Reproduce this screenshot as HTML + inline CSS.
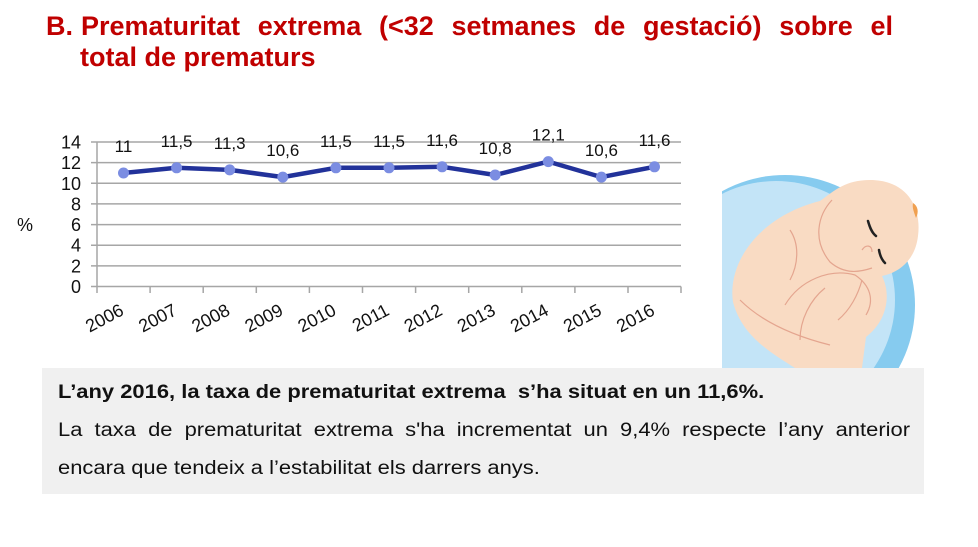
<!DOCTYPE html>
<html><head><meta charset="utf-8"><style>
html,body{margin:0;padding:0;background:#fff;}
body{width:978px;height:547px;position:relative;overflow:hidden;font-family:"Liberation Sans",Arial,sans-serif;}
.title{position:absolute;left:46px;top:11px;width:847px;color:#c00000;font-weight:bold;font-size:27px;line-height:31px;}
.t1{position:relative;height:31px;}
.t1 .b{position:absolute;left:0;top:0;}
.t1 .r{position:absolute;left:35px;top:0;width:812px;white-space:nowrap;text-align:justify;text-align-last:justify;}
.t2{padding-left:34px;}
.box{position:absolute;left:42px;top:368px;width:882px;height:126px;background:#f0f0f0;}
.bx{position:absolute;left:16px;font-size:19px;line-height:38px;color:#111;white-space:nowrap;transform-origin:0 0;transform:scaleX(1.155);}
.b1{top:6px;font-weight:bold;}
.b2{top:44px;width:737.7px;text-align:justify;text-align-last:justify;}
.b3{top:82px;}
svg{position:absolute;left:0;top:0;}
</style></head><body>
<div class="title"><div class="t1"><span class="b">B.</span><div class="r">Prematuritat extrema (&lt;32 setmanes de gestació) sobre el</div></div><div class="t2">total de prematurs</div></div>

<svg width="978" height="547" viewBox="0 0 978 547">
 <g stroke="#a6a6a6" stroke-width="1.5" fill="none">
  <line x1="91" y1="142" x2="681" y2="142"/>
  <line x1="91" y1="162.6" x2="681" y2="162.6"/>
  <line x1="91" y1="183.3" x2="681" y2="183.3"/>
  <line x1="91" y1="203.9" x2="681" y2="203.9"/>
  <line x1="91" y1="224.6" x2="681" y2="224.6"/>
  <line x1="91" y1="245.2" x2="681" y2="245.2"/>
  <line x1="91" y1="265.9" x2="681" y2="265.9"/>
  <line x1="91" y1="286.5" x2="681" y2="286.5"/>
  <line x1="97" y1="142" x2="97" y2="293"/>
  <line x1="150.1" y1="286.5" x2="150.1" y2="293"/>
  <line x1="203.2" y1="286.5" x2="203.2" y2="293"/>
  <line x1="256.3" y1="286.5" x2="256.3" y2="293"/>
  <line x1="309.4" y1="286.5" x2="309.4" y2="293"/>
  <line x1="362.5" y1="286.5" x2="362.5" y2="293"/>
  <line x1="415.6" y1="286.5" x2="415.6" y2="293"/>
  <line x1="468.7" y1="286.5" x2="468.7" y2="293"/>
  <line x1="521.8" y1="286.5" x2="521.8" y2="293"/>
  <line x1="574.9" y1="286.5" x2="574.9" y2="293"/>
  <line x1="628" y1="286.5" x2="628" y2="293"/>
  <line x1="681" y1="286.5" x2="681" y2="293"/>
 </g>
 <g font-family="Liberation Sans, Arial, sans-serif" font-size="18" fill="#111" text-anchor="end">
  <text x="81" y="148.5">14</text>
  <text x="81" y="169.1">12</text>
  <text x="81" y="189.8">10</text>
  <text x="81" y="210.4">8</text>
  <text x="81" y="231.1">6</text>
  <text x="81" y="251.7">4</text>
  <text x="81" y="272.4">2</text>
  <text x="81" y="293">0</text>
 </g>
 <text x="17" y="231" font-family="Liberation Sans, Arial, sans-serif" font-size="18" fill="#111">%</text>
 <polyline fill="none" stroke="#22329a" stroke-width="4.5" stroke-linejoin="round"
  points="123.5,173 176.6,167.8 229.7,169.9 282.8,177.1 335.9,167.8 389,167.8 442.1,166.8 495.2,175 548.3,161.6 601.4,177.1 654.5,166.8"/>
 <g fill="#7b8de2">
  <circle cx="123.5" cy="173" r="5.5"/><circle cx="176.6" cy="167.8" r="5.5"/><circle cx="229.7" cy="169.9" r="5.5"/>
  <circle cx="282.8" cy="177.1" r="5.5"/><circle cx="335.9" cy="167.8" r="5.5"/><circle cx="389" cy="167.8" r="5.5"/>
  <circle cx="442.1" cy="166.8" r="5.5"/><circle cx="495.2" cy="175" r="5.5"/><circle cx="548.3" cy="161.6" r="5.5"/>
  <circle cx="601.4" cy="177.1" r="5.5"/><circle cx="654.5" cy="166.8" r="5.5"/>
 </g>
 <g font-family="Liberation Sans, Arial, sans-serif" font-size="17" fill="#111" text-anchor="middle">
  <text x="123.5" y="152">11</text>
  <text x="176.6" y="146.8">11,5</text>
  <text x="229.7" y="148.9">11,3</text>
  <text x="282.8" y="156.1">10,6</text>
  <text x="335.9" y="146.8">11,5</text>
  <text x="389" y="146.8">11,5</text>
  <text x="442.1" y="145.8">11,6</text>
  <text x="495.2" y="154">10,8</text>
  <text x="548.3" y="140.6">12,1</text>
  <text x="601.4" y="156.1">10,6</text>
  <text x="654.5" y="145.8">11,6</text>
 </g>
 <g font-family="Liberation Sans, Arial, sans-serif" font-size="18" fill="#111" text-anchor="end">
  <text transform="translate(125,314) rotate(-28)">2006</text>
  <text transform="translate(178.1,314) rotate(-28)">2007</text>
  <text transform="translate(231.2,314) rotate(-28)">2008</text>
  <text transform="translate(284.3,314) rotate(-28)">2009</text>
  <text transform="translate(337.4,314) rotate(-28)">2010</text>
  <text transform="translate(390.5,314) rotate(-28)">2011</text>
  <text transform="translate(443.6,314) rotate(-28)">2012</text>
  <text transform="translate(496.7,314) rotate(-28)">2013</text>
  <text transform="translate(549.8,314) rotate(-28)">2014</text>
  <text transform="translate(602.9,314) rotate(-28)">2015</text>
  <text transform="translate(656,314) rotate(-28)">2016</text>
 </g>
 <!-- illustration -->
 <defs><clipPath id="cp"><rect x="722" y="150" width="220" height="218"/></clipPath></defs>
 <g clip-path="url(#cp)">
  <circle cx="785" cy="305" r="130" fill="#86cbef"/>
  <circle cx="776" cy="300" r="119" fill="#c3e4f7"/>
  <path d="M795 368 C770 352 742 336 733 302 C727 262 760 216 820 201 C835 190 846 180 870 180 C905 180 922 205 918 236 C915 262 897 273 882 276 C892 296 886 322 866 337 L862 368 Z" fill="#f9dbc3"/>
  <g fill="none" stroke="#e4a58f" stroke-width="1.2">
   <path d="M832 200 C818 215 812 240 830 262 C845 275 860 272 872 268"/>
   <path d="M740 300 C760 320 790 335 830 345"/>
   <path d="M785 305 C800 280 830 268 855 275 C870 285 875 300 866 315"/>
   <path d="M825 288 C810 300 800 320 800 340"/>
   <path d="M790 230 C800 245 798 265 790 280"/>
   <path d="M862 280 C858 295 850 310 838 320"/>
   <path d="M862 250 C866 244 872 245 872 252"/>
  </g>
  <path d="M868 221 C870 228 872 233 876 236" stroke="#222" stroke-width="2.5" fill="none" stroke-linecap="round"/>
  <path d="M879 250 C880 256 882 260 885 263" stroke="#222" stroke-width="2.5" fill="none" stroke-linecap="round"/>
  <path d="M913 203 C918 206 919 212 916 218 C914 212 912 208 913 203 Z" fill="#f0a050"/>
 </g>
</svg>

<div class="box">
 <div class="bx b1">L’any 2016, la taxa de prematuritat extrema&nbsp; s’ha situat en un 11,6%.</div>
 <div class="bx b2">La taxa de prematuritat extrema s'ha incrementat un 9,4% respecte l’any anterior</div>
 <div class="bx b3">encara que tendeix a l’estabilitat els darrers anys.</div>
</div>
</body></html>
